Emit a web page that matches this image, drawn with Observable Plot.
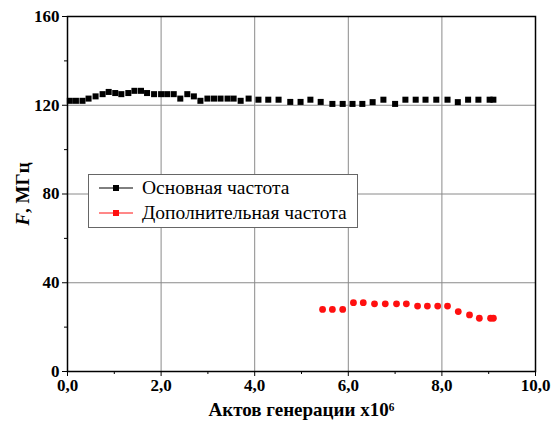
<!DOCTYPE html>
<html>
<head>
<meta charset="utf-8">
<script src="https://cdn.jsdelivr.net/npm/d3@7"></script>
<script src="https://cdn.jsdelivr.net/npm/@observablehq/plot@0.6"></script>
<style>
  body { margin: 0; background: white; }
  #wrap { position: relative; width: 553px; height: 427px; font-family: "Liberation Serif", "Times New Roman", serif; }
  #wrap svg, #wrap svg text { font-family: "Liberation Serif", "Times New Roman", serif !important; }
  #legend { position: absolute; left: 88px; top: 174px; width: 268px; height: 52px; border: 1px solid #666; background: white; font-size: 19.5px; }
  .row { position: absolute; left: 6px; height: 24px; display: flex; align-items: center; white-space: nowrap; }
  .row svg { margin-right: 5px; }
</style>
</head>
<body>
<div id="wrap"></div>
<script>
// Series: основная частота (black squares)
const baseX = [0.05, 0.18, 0.32, 0.45, 0.6, 0.75, 0.88, 1.02, 1.15, 1.3, 1.43, 1.57, 1.7, 1.85, 2.0, 2.13, 2.27, 2.41, 2.56, 2.7, 2.84, 2.99, 3.13, 3.27, 3.42, 3.55, 3.7, 3.87, 4.08, 4.29, 4.51, 4.76, 4.98, 5.19, 5.41, 5.66, 5.88, 6.09, 6.3, 6.52, 6.75, 7.0, 7.22, 7.44, 7.65, 7.88, 8.12, 8.34, 8.56, 8.78, 9.02, 9.1];
const baseY = [122, 122, 122, 123, 124, 125, 126, 125.5, 125, 125.5, 126.5, 126.5, 125.5, 125, 125, 125, 125, 123, 125, 124, 122, 123, 123, 123, 123, 123, 122, 123, 122.5, 122.5, 122.5, 121.5, 121.5, 122.5, 121.5, 120.6, 120.6, 120.6, 120.6, 121.4, 122.5, 120.6, 122.5, 122.5, 122.5, 122.5, 122.5, 121.4, 122.5, 122.5, 122.5, 122.5];
// Series: дополнительная частота (red circles)
const extraX = [5.45, 5.66, 5.88, 6.11, 6.32, 6.56, 6.79, 7.03, 7.24, 7.48, 7.69, 7.91, 8.12, 8.35, 8.59, 8.8, 9.04, 9.1];
const extraY = [28, 28, 28, 31, 31, 30.5, 30.5, 30.5, 30.5, 29.5, 29.5, 29.5, 29.5, 27, 25.5, 24, 24, 24];

const xTicks = [0, 2, 4, 6, 8, 10];
const xMinor = [1, 3, 5, 7, 9];
const xGrid = [2, 4, 6, 8];
const yTicks = [0, 40, 80, 120, 160];
const yMinor = [20, 60, 100, 140];
const yGrid = [40, 80, 120];
const legendLabels = ["Основная частота", "Дополнительная частота"];
const xTitle = "Актов генерации x10⁶";
const yTitle = "F, МГц";

const base = baseX.map((x, i) => ({x, y: baseY[i]}));
const extra = extraX.map((x, i) => ({x, y: extraY[i]}));

const chart = Plot.plot({
  width: 553,
  height: 427,
  marginLeft: 67,
  marginRight: 18,
  marginTop: 16,
  marginBottom: 56,
  x: {domain: [0, 10]},
  y: {domain: [0, 160]},
  style: {fontSize: "17px", fontWeight: "bold", color: "black", background: "white"},
  marks: [
    Plot.gridX(xGrid, {stroke: "#8a8a8a", strokeOpacity: 1, strokeWidth: 1}),
    Plot.gridY(yGrid, {stroke: "#8a8a8a", strokeOpacity: 1, strokeWidth: 1}),
    Plot.axisX(xTicks, {tickSize: 5, tickPadding: 2, tickFormat: d => d.toFixed(1).replace(".", ","), label: xTitle, labelAnchor: "center", labelArrow: "none", labelOffset: 44, fontSize: 17}),
    Plot.axisX(xMinor, {tickSize: 3, tickFormat: () => "", label: null}),
    Plot.axisY(yTicks, {tickSize: 5, tickPadding: 3, label: yTitle, labelAnchor: "center", labelArrow: "none", labelOffset: 52, fontSize: 17}),
    Plot.axisY(yMinor, {tickSize: 3, tickFormat: () => "", label: null}),
    Plot.frame({stroke: "black", strokeWidth: 1.5}),
    Plot.dot(base, {x: "x", y: "y", symbol: "square", fill: "black", r: 3.4}),
    Plot.dot(extra, {x: "x", y: "y", symbol: "circle", fill: "#ff1010", r: 3.4})
  ]
});

// italic F in y title, larger axis titles
chart.querySelectorAll("text").forEach(t => {
  if (t.textContent === yTitle) {
    t.textContent = "";
    const f = document.createElementNS("http://www.w3.org/2000/svg", "tspan");
    f.setAttribute("font-style", "italic");
    f.textContent = "F";
    const rest = document.createElementNS("http://www.w3.org/2000/svg", "tspan");
    rest.textContent = yTitle.slice(1);
    t.append(f, rest);
    t.setAttribute("font-size", "19px");
  } else if (t.textContent === xTitle) {
    t.setAttribute("font-size", "19px");
  }
});

const wrap = document.getElementById("wrap");
wrap.appendChild(chart);

const legend = document.createElement("div");
legend.id = "legend";
const colors = ["black", "#ff1010"];
legendLabels.forEach((lab, i) => {
  const row = document.createElement("div");
  row.className = "row";
  row.style.top = (i * 25 + 1) + "px";
  row.innerHTML = `<svg width="42" height="14"><line x1="4" x2="38" y1="7" y2="7" stroke="${colors[i]}" stroke-width="1"/><rect x="18" y="4" width="6" height="6" fill="${colors[i]}"/></svg><span>${lab}</span>`;
  legend.appendChild(row);
});
wrap.appendChild(legend);
</script>
</body>
</html>
